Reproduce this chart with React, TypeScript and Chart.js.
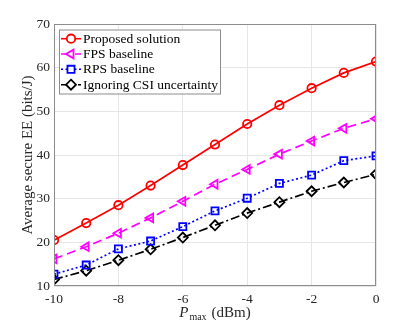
import React, { useEffect, useRef } from "react";
import { Chart, registerables } from "chart.js";

Chart.register(...registerables);

const pmax = [-10, -9, -8, -7, -6, -5, -4, -3, -2, -1, 0];
const proposed = [20.5, 24.4, 28.5, 33.0, 37.7, 42.4, 47.1, 51.4, 55.3, 58.8, 61.4];
const fps = [16.2, 19.0, 22.1, 25.6, 29.4, 33.3, 36.7, 40.2, 43.2, 46.1, 48.3];
const rps = [12.7, 14.8, 18.5, 20.3, 23.6, 27.2, 30.1, 33.5, 35.4, 38.7, 39.8];
const ignoring = [11.5, 13.5, 15.9, 18.4, 21.1, 23.9, 26.7, 29.2, 31.7, 33.7, 35.6];
const seriesNames = ["Proposed solution", "FPS baseline", "RPS baseline", "Ignoring CSI uncertainty"];
const yTicks = [10, 20, 30, 40, 50, 60, 70];
const xTicks = [-10, -8, -6, -4, -2, 0];

const FONT = "'Liberation Serif', 'Times New Roman', serif";
const TEXT = "#262626";

const styles = [
  { color: "#ff0000", dash: [] as number[], point: "circle", radius: 4.2, rotation: 0 },
  { color: "#ff00ff", dash: [9, 5], point: "triangle", radius: 5, rotation: -90 },
  { color: "#0000ff", dash: [2, 2.5], point: "rect", radius: 5, rotation: 0 },
  { color: "#000000", dash: [9, 3, 2, 3], point: "rectRot", radius: 5, rotation: 0 },
];

function drawPointLocal(ctx: CanvasRenderingContext2D, style: string, radius: number, x: number, y: number, rotationDeg: number) {
  const rad = (rotationDeg * Math.PI) / 180;
  ctx.beginPath();
  if (style === "circle") {
    ctx.arc(x, y, radius, 0, Math.PI * 2);
  } else if (style === "triangle") {
    let r = rad;
    ctx.moveTo(x + Math.sin(r) * radius, y - Math.cos(r) * radius);
    r += (2 * Math.PI) / 3;
    ctx.lineTo(x + Math.sin(r) * radius, y - Math.cos(r) * radius);
    r += (2 * Math.PI) / 3;
    ctx.lineTo(x + Math.sin(r) * radius, y - Math.cos(r) * radius);
    ctx.closePath();
  } else if (style === "rect") {
    const s = radius * Math.SQRT1_2;
    ctx.rect(x - s, y - s, 2 * s, 2 * s);
  } else if (style === "rectRot") {
    ctx.moveTo(x, y - radius);
    ctx.lineTo(x + radius, y);
    ctx.lineTo(x, y + radius);
    ctx.lineTo(x - radius, y);
    ctx.closePath();
  }
  ctx.fillStyle = "#ffffff";
  ctx.fill();
  ctx.stroke();
}

const frameAndText = {
  id: "frameAndText",
  afterDraw(chart: any) {
    const { ctx, chartArea } = chart;
    const { left, right, top, bottom } = chartArea;
    ctx.save();
    // frame
    ctx.strokeStyle = "#8c8c8c";
    ctx.lineWidth = 1;
    ctx.setLineDash([]);
    ctx.strokeRect(left + 0.5, top + 0.5, right - left - 1, bottom - top - 1);

    // legend
    const lx = 59, ly = 29.5, lw = 161, lh = 64;
    ctx.fillStyle = "#ffffff";
    ctx.fillRect(lx, ly, lw, lh);
    ctx.strokeStyle = "#8c8c8c";
    ctx.strokeRect(lx + 0.5, ly + 0.5, lw, lh);
    const rows = [38.7, 54, 69.3, 84.7];
    for (let i = 0; i < 4; i++) {
      const s = styles[i];
      const y = rows[i];
      ctx.strokeStyle = s.color;
      ctx.lineWidth = 1.6;
      ctx.setLineDash(s.dash);
      ctx.beginPath();
      ctx.moveTo(61, y);
      ctx.lineTo(81, y);
      ctx.stroke();
      ctx.setLineDash([]);
      ctx.lineWidth = 1.8;
      drawPointLocal(ctx, s.point, s.radius, 71, y, s.rotation);
      ctx.fillStyle = "#000000";
      ctx.font = `13.5px ${FONT}`;
      ctx.textBaseline = "middle";
      ctx.textAlign = "left";
      ctx.fillText(seriesNames[i], 83, y + 0.5);
    }

    // y title
    ctx.save();
    ctx.translate(28, (top + bottom) / 2);
    ctx.rotate(-Math.PI / 2);
    ctx.fillStyle = TEXT;
    ctx.font = `15px ${FONT}`;
    ctx.textAlign = "center";
    ctx.textBaseline = "middle";
    ctx.fillText("Average secure EE (bits/J)", 0, 0);
    ctx.restore();

    // x title
    ctx.fillStyle = TEXT;
    ctx.textBaseline = "alphabetic";
    ctx.textAlign = "left";
    const pFont = `italic 15px ${FONT}`;
    const subFont = `10px ${FONT}`;
    const restFont = `15px ${FONT}`;
    ctx.font = pFont;
    const wP = ctx.measureText("P").width;
    ctx.font = subFont;
    const wSub = ctx.measureText("max").width;
    ctx.font = restFont;
    const rest = "(dBm)";
    const wRest = ctx.measureText(rest).width;
    const gap = 5;
    const total = wP + 1 + wSub + gap + wRest;
    let x = (left + right) / 2 - total / 2;
    const base = 317;
    ctx.font = pFont;
    ctx.fillText("P", x, base);
    x += wP + 1;
    ctx.font = subFont;
    ctx.fillText("max", x, base + 3);
    x += wSub + gap;
    ctx.font = restFont;
    ctx.fillText(rest, x, base);
    ctx.restore();
  },
};

export default function App() {
  const ref = useRef<HTMLCanvasElement>(null);
  useEffect(() => {
    document.body.style.margin = "0";
    const datasets = [proposed, fps, rps, ignoring].map((vals, i) => ({
      label: seriesNames[i],
      data: vals.map((v, j) => ({ x: pmax[j], y: v })),
      borderColor: styles[i].color,
      backgroundColor: "rgba(255,255,255,0)",
      borderWidth: 1.7,
      borderDash: styles[i].dash,
      pointStyle: styles[i].point,
      pointRadius: styles[i].radius,
      pointRotation: styles[i].rotation,
      pointBorderWidth: 1.8,
      pointBorderColor: styles[i].color,
      pointBackgroundColor: "rgba(255,255,255,0)",
      tension: 0,
      fill: false,
    }));
    const chart = new Chart(ref.current!, {
      type: "line",
      data: { datasets },
      options: {
        animation: false,
        responsive: false,
        devicePixelRatio: 1,
        layout: { padding: { left: 0, top: 24, right: 39, bottom: 0 } },
        plugins: { legend: { display: false }, tooltip: { enabled: false } },
        scales: {
          x: {
            type: "linear",
            min: -10,
            max: 0,
            afterFit: (s: any) => { s.height = 38; },
            afterBuildTicks: (s: any) => { s.ticks = xTicks.map((v) => ({ value: v })); },
            grid: { color: "#e6e6e6", drawTicks: false, lineWidth: 1 },
            border: { display: false },
            ticks: { color: TEXT, font: { family: FONT, size: 13.5 }, padding: 5, maxRotation: 0 },
          },
          y: {
            type: "linear",
            min: 10,
            max: 70,
            afterFit: (s: any) => { s.width = 54; },
            afterBuildTicks: (s: any) => { s.ticks = yTicks.map((v) => ({ value: v })); },
            grid: { color: "#e6e6e6", drawTicks: false, lineWidth: 1 },
            border: { display: false },
            ticks: { color: TEXT, font: { family: FONT, size: 13.5 }, padding: 4 },
          },
        },
      },
      plugins: [frameAndText],
    });
    return () => chart.destroy();
  }, []);
  return (
    <div style={{ position: "absolute", left: 0, top: 0, width: 415, height: 324, background: "#fff" }}>
      <canvas ref={ref} width={415} height={324} style={{ width: 415, height: 324 }} />
    </div>
  );
}
